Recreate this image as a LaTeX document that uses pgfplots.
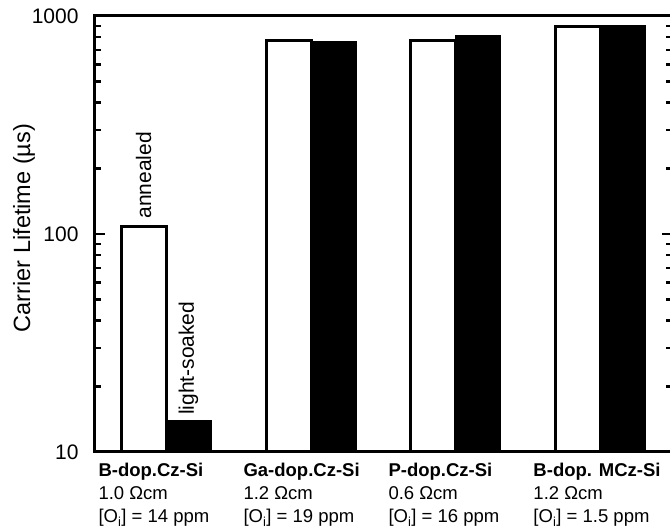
\documentclass[border=0pt]{standalone}
\usepackage{fontspec}
\setmainfont{Liberation Sans}
\usepackage{pgfplots}
\pgfplotsset{compat=1.18}

% lifetimes in microseconds
\pgfplotstableread{
x annealed
0 108
1 772
2 772
3 895
}\annealed
\pgfplotstableread{
x soaked
0 14
1 762
2 810
3 909
}\soaked

\begin{document}
\begin{tikzpicture}
\begin{axis}[
    at={(0,0)}, anchor=south west,
    scale only axis,
    width=577bp, height=436bp,
    ymode=log, log origin=infty,
    ymin=10, ymax=1000,
    xmin=-0.49, xmax=3.49,
    ybar=0pt,
    bar width=45bp,
    axis line style={line width=3bp},
    ytick={10,100,1000},
    yticklabels={10,100,1000},
    yticklabel style={font=\fontsize{21bp}{25bp}\selectfont, xshift=-13bp},
    tick align=inside,
    ytick pos=both,
    major tick length=10bp,
    minor tick length=6bp,
    every tick/.style={black, line width=2.5bp},
    xtick=data,
    xtick style={draw=none},
    xticklabels={
      {\textbf{B-dop.Cz-Si}\\1.0 Ωcm\\{[O\textsubscript{i}] = 14 ppm}},
      {\textbf{Ga-dop.Cz-Si}\\1.2 Ωcm\\{[O\textsubscript{i}] = 19 ppm}},
      {\textbf{P-dop.Cz-Si}\\0.6 Ωcm\\{[O\textsubscript{i}] = 16 ppm}},
      {\textbf{B-dop. MCz-Si}\\1.2 Ωcm\\{[O\textsubscript{i}] = 1.5 ppm}}},
    xticklabel style={anchor=north west, align=left, xshift=-71bp, yshift=-8bp,
      font=\fontsize{18.5bp}{23bp}\selectfont},
    ylabel={Carrier Lifetime (µs)},
    ylabel style={at={(axis description cs:0,0.5)}, anchor=center,
      xshift=6bp, yshift=71bp, font=\fontsize{23.5bp}{28bp}\selectfont},
    clip=false,
]
\addplot[fill=white, draw=black, line width=3bp] table[x=x, y=annealed] {\annealed};
\addplot[fill=black, draw=black, line width=1bp] table[x=x, y=soaked] {\soaked};
\node[rotate=90, anchor=west, font=\fontsize{21bp}{25bp}\selectfont, inner sep=0pt]
  at ([xshift=-22.5bp, yshift=8bp]axis cs:0,108) {annealed};
\node[rotate=90, anchor=west, font=\fontsize{21bp}{25bp}\selectfont, inner sep=0pt]
  at ([xshift=22.5bp, yshift=5bp]axis cs:0,14) {light-soaked};
\end{axis}
\pgfresetboundingbox
\path[use as bounding box] (-95bp,-78bp) rectangle (575bp,452bp);
\end{tikzpicture}
\end{document}
